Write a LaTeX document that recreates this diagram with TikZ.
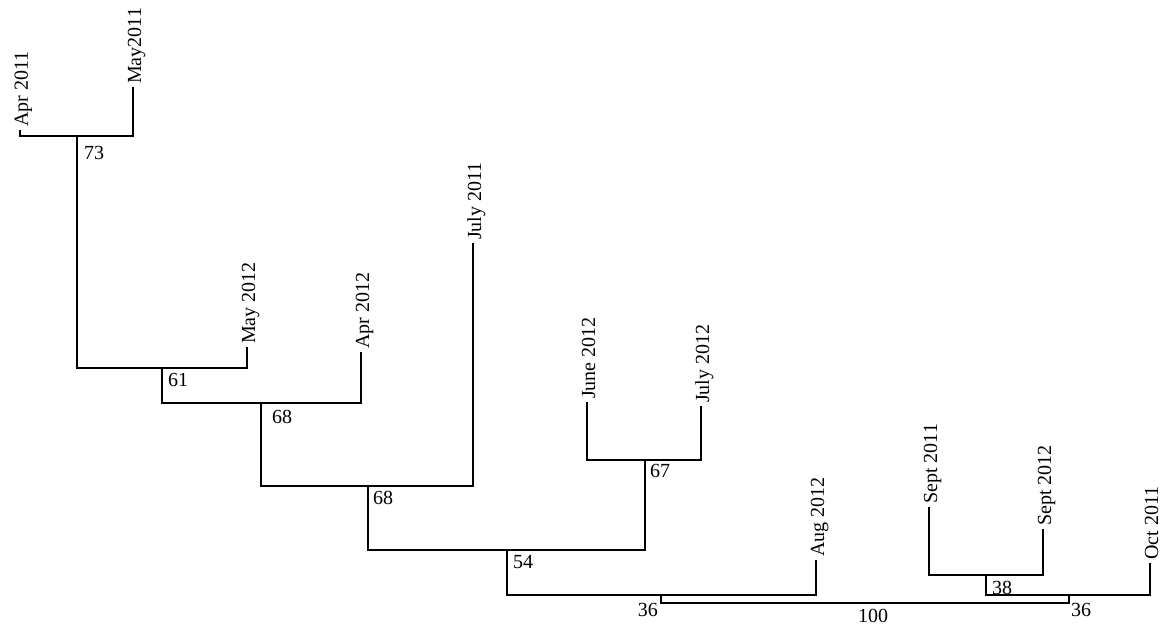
\documentclass[tikz,border=0pt]{standalone}
\usepackage{fontspec}
\setmainfont{Liberation Serif}
\usetikzlibrary{positioning}

\begin{document}
\begin{tikzpicture}[
    x=1pt, y=1pt,
    leaf/.style={rotate=90, anchor=west, inner sep=3pt, text height=16pt, text depth=0pt, font=\fontsize{20}{24}\selectfont},
    support/.style={inner sep=0pt, font=\fontsize{20}{24}\selectfont},
    branch/.style={line width=1.5pt}
]
\useasboundingbox (0,0) rectangle (1161,626);

% leaves
\node[leaf] (apr11) at (20,496) {Apr 2011};
\node[leaf] (may11) at (133,539) {May2011};
\node[leaf] (may12) at (247,279) {May 2012};
\node[leaf] (apr12) at (361,274) {Apr 2012};
\node[leaf] (jul11) at (473,383) {July 2011};
\node[leaf] (jun12) at (587,224) {June 2012};
\node[leaf] (jul12) at (701,220) {July 2012};
\node[leaf] (aug12) at (816,66) {Aug 2012};
\node[leaf] (sep11) at (929,119) {Sept 2011};
\node[leaf] (sep12) at (1043,97) {Sept 2012};
\node[leaf] (oct11) at (1150,63) {Oct 2011};

% junctions
\coordinate (j73) at (77,490);
\coordinate (j61) at (162,258);
\coordinate (j68a) at (261,223);
\coordinate (j68b) at (368,140);
\coordinate (j67) at (645,166);
\coordinate (j54) at (507,76);
\coordinate (j36a) at (661,31);
\coordinate (j38) at (986,51);
\coordinate (j36b) at (1069,31);
\coordinate (j100) at (866,23);

% branches
\draw[branch] (apr11.west) |- (j73) -| (may11.west);
\draw[branch] (j73) |- (j61) -| (may12.west);
\draw[branch] (j61) |- (j68a) -| (apr12.west);
\draw[branch] (j68a) |- (j68b) -| (jul11.west);
\draw[branch] (jun12.west) |- (j67) -| (jul12.west);
\draw[branch] (j68b) |- (j54) -| (j67);
\draw[branch] (j54) |- (j36a) -| (aug12.west);
\draw[branch] (sep11.west) |- (j38) -| (sep12.west);
\draw[branch] (j38) |- (j36b) -| (oct11.west);
\draw[branch] (j36a) |- (j100) -| (j36b);

% bootstrap values
\node[support, anchor=north west] (s73) at ([shift={(7,-10)}]j73) {73};
\node[support, below right=5pt and 6pt of j61] (s61) {61};
\node[support, below right=7pt and 11pt of j68a] (s68a) {68};
\node[support, below right=5pt and 5pt of j68b] (s68b) {68};
\node[support, below right=4pt and 5pt of j67] (s67) {67};
\node[support, below right=5pt and 6pt of j54] (s54) {54};
\node[support, below right=6pt and 6pt of j38] (s38) {38};
\node[support, anchor=north east] (s36a) at ([shift={(-3,-8)}]j36a) {36};
\node[support, anchor=north west] (s36b) at ([shift={(2,-8)}]j36b) {36};
\node[support, below=6pt of j100, xshift=7pt] (s100) {100};
\end{tikzpicture}
\end{document}
